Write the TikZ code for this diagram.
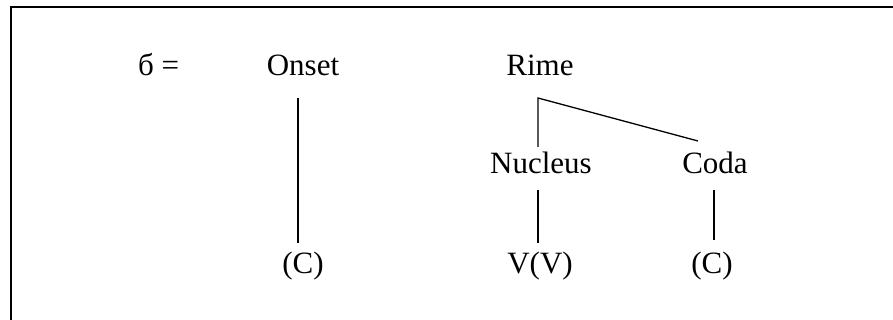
\documentclass[tikz,border=0pt]{standalone}
\usepackage{fontspec}
\setmainfont{Liberation Serif}
\begin{document}
\begin{tikzpicture}[x=1pt,y=-1pt,
  lbl/.style={anchor=base,inner sep=0pt,font=\fontsize{31}{37}\selectfont},
  branch/.style={line width=1.3pt},
  frame/.style={line width=2.3pt}]
\useasboundingbox (0,0) rectangle (893,320);
% open frame: left and top edges
\coordinate (fb) at (11,321);
\coordinate (fc) at (11,7);
\coordinate (fr) at (894,7);
\draw[frame] (fb) -- (fc) -- (fr);

% labels
\node[lbl,anchor=base west] (sigma) at (138,76) {б =};
\node[lbl] (onset) at (303,76) {Onset};
\node[lbl] (rime) at (540,76) {Rime};
\node[lbl] (nucleus) at (541,174) {Nucleus};
\node[lbl] (coda) at (715,174) {Coda};
\node[lbl] (c1) at (303,273) {(C)};
\node[lbl] (vv) at (540,273) {V(V)};
\node[lbl] (c2) at (712,273) {(C)};

% branch end points
\coordinate (onsetTop) at (298,98);
\coordinate (onsetBot) at (298,243);
\coordinate (rimeJ) at (538,98);
\coordinate (nucTop) at (538,147);
\coordinate (codaTop) at (698,141);
\coordinate (nucLo) at (538,190);
\coordinate (nucEnd) at (538,243);
\coordinate (codaLo) at (714,190);
\coordinate (codaEnd) at (714,240);

\draw[branch] (onsetTop) -- (onsetBot);
\draw[branch] (nucTop) -- (rimeJ) -- (codaTop);
\draw[branch] (nucLo) -- (nucEnd);
\draw[branch] (codaLo) -- (codaEnd);
\end{tikzpicture}
\end{document}
